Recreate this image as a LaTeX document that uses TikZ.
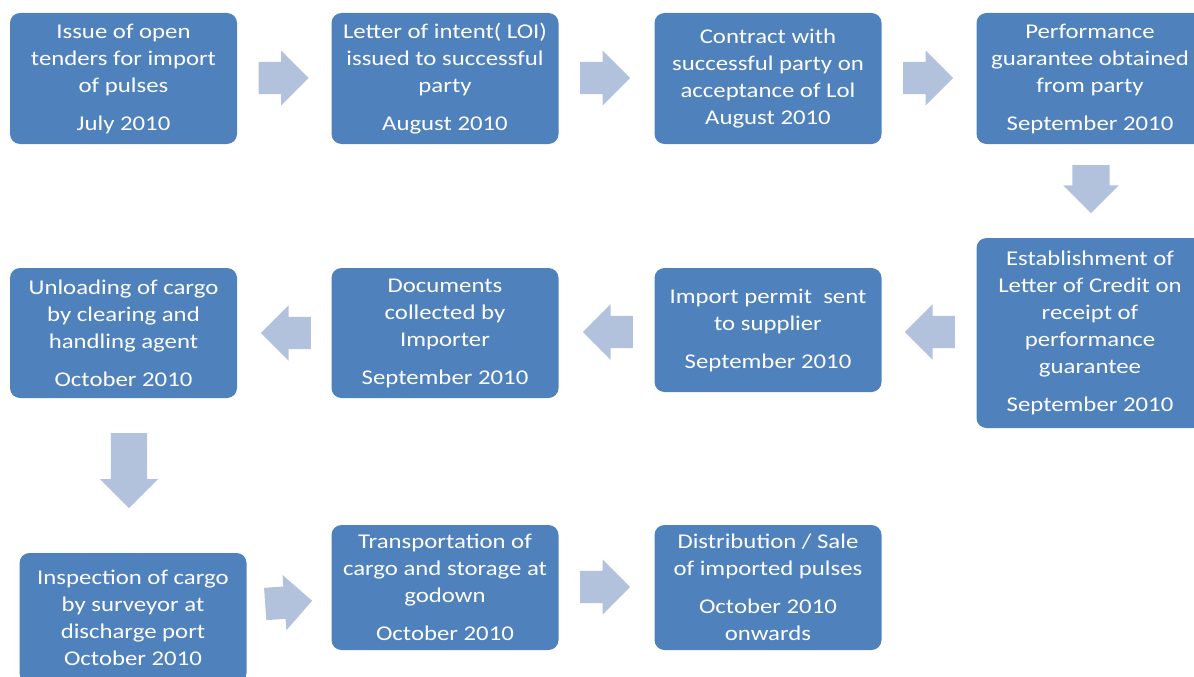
\documentclass[tikz,border=0pt]{standalone}
\usepackage{fontspec}
\setmainfont{Carlito}[FakeStretch=1.18]
\usetikzlibrary{shapes.arrows}
\definecolor{boxblue}{HTML}{4F81BD}
\definecolor{arrowblue}{HTML}{B3C2DC}
\begin{document}
\begin{tikzpicture}[x=1pt,y=-1pt,
  stepbox/.style={fill=boxblue, rounded corners=10pt, text=white, align=center,
    font=\fontsize{21}{27}\selectfont, minimum width=227pt, inner sep=2pt},
  flow/.style={single arrow, fill=arrowblue, draw=none, inner sep=0pt, anchor=tail,
    single arrow head extend=11.5pt, minimum height=50pt}]
\clip (0,0) rectangle (1194,677);
\fill[white] (0,0) rectangle (1194,677);
% row 1
\node[stepbox, minimum height=131pt] (b1) at (123.5,78.5) {Issue of open\\tenders for import\\of pulses\\[11pt]July 2010};
\node[stepbox, minimum height=131pt] (b2) at (445,78.5) {Letter of intent( LOI)\\issued to successful\\party\\[11pt]August 2010};
\node[stepbox, minimum height=131pt] (b3) at (768,78.5) {Contract with\\successful party on\\acceptance of Lol\\August 2010};
\node[stepbox, minimum height=131pt] (b4) at (1090,78.5) {Performance\\guarantee obtained\\from party\\[11pt]September 2010};
% right column
\node[stepbox, minimum height=190pt] (b5) at (1090,333) {Establishment of\\Letter of Credit on\\receipt of\\performance\\guarantee\\[11pt]September 2010};
% row 2
\node[stepbox, minimum height=124pt] (b6) at (768,330) {Import permit \ sent\\to supplier\\[11pt]September 2010};
\node[stepbox, minimum height=130pt] (b7) at (445,333) {Documents\\collected by\\Importer\\[11pt]September 2010};
\node[stepbox, minimum height=130pt] (b8) at (123.5,333) {Unloading of cargo\\by clearing and\\handling agent\\[11pt]October 2010};
% row 3
\node[stepbox, minimum height=130pt] (b9) at (133,618) {Inspection of cargo\\by surveyor at\\discharge port\\October 2010};
\node[stepbox, minimum height=125pt] (b10) at (445,587.5) {Transportation of\\cargo and storage at\\godown\\[11pt]October 2010};
\node[stepbox, minimum height=125pt] (b11) at (768,587.5) {Distribution / Sale\\of imported pulses\\[11pt]October 2010\\onwards};
% block arrows between the steps (placed by their tails)
\node[flow] (a1) at (258.5,78) {\rule{0pt}{32pt}};
\node[flow] (a2) at (580,78) {\rule{0pt}{32pt}};
\node[flow] (a3) at (903,78) {\rule{0pt}{32pt}};
\node[flow, rotate=270, minimum height=48pt, single arrow head extend=9pt] (a4) at (1091,165) {\rule{0pt}{37pt}};
\node[flow, rotate=180] (a5) at (955,332) {\rule{0pt}{32pt}};
\node[flow, rotate=180] (a6) at (633,332) {\rule{0pt}{32pt}};
\node[flow, rotate=180] (a7) at (311,333) {\rule{0pt}{32pt}};
\node[flow, rotate=270, minimum height=75pt, single arrow head extend=11pt] (a8) at (129,433) {\rule{0pt}{36pt}};
\node[flow, minimum height=47pt, rotate=4] (a9) at (265,604) {\rule{0pt}{32pt}};
\node[flow] (a10) at (580,587) {\rule{0pt}{32pt}};
\end{tikzpicture}
\end{document}
